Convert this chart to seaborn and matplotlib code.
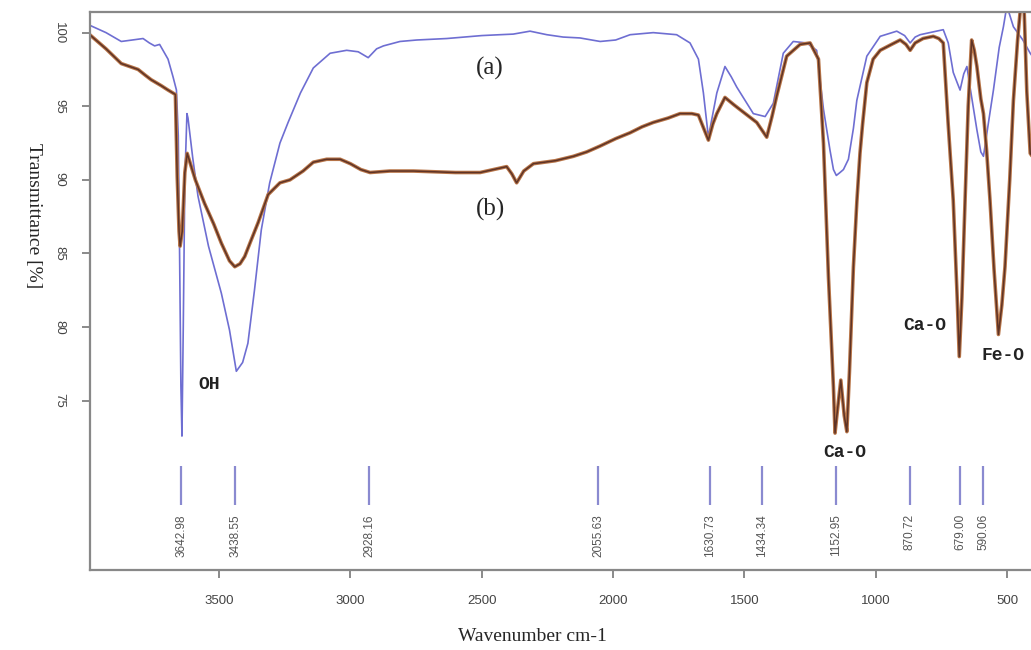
import numpy as np
import pandas as pd
import seaborn as sns
import matplotlib.pyplot as plt

# spectrum (a)
wn_a = [3992, 3930, 3872, 3830, 3789, 3765, 3745, 3726, 3694, 3675, 3662, 3655, 3650, 3645,
        3641, 3636, 3630, 3622, 3618, 3600, 3580, 3540, 3491, 3460, 3434, 3410, 3390, 3365,
        3339, 3307, 3268, 3237, 3190, 3141, 3077, 3014, 2970, 2932, 2900, 2874, 2811, 2747,
        2633, 2500, 2430, 2380, 2316, 2252, 2190, 2126, 2049, 1990, 1935, 1847, 1758, 1707,
        1675, 1656, 1637, 1620, 1605, 1574, 1550, 1529, 1466, 1421, 1390, 1352, 1314, 1263,
        1225, 1199, 1174, 1161, 1150, 1136, 1123, 1104, 1085, 1072, 1034, 983, 920, 890, 869,
        850, 831, 743, 724, 705, 690, 679, 665, 653, 641, 615, 600, 590, 570, 552, 530, 514,
        501, 490, 476, 440, 412, 400]
tr_a = [100.5, 100.0, 99.4, 99.5, 99.6, 99.3, 99.1, 99.2, 98.2, 97.0, 96.1, 93.0, 85.0, 76.0,
        72.6, 80.0, 90.0, 94.5, 94.2, 91.5, 88.9, 85.5, 82.3, 79.8, 77.0, 77.6, 78.9, 82.5,
        86.6, 89.8, 92.5, 93.9, 95.9, 97.6, 98.6, 98.8, 98.7, 98.3, 98.9, 99.1, 99.4, 99.5,
        99.6, 99.8, 99.86, 99.9, 100.1, 99.86, 99.7, 99.64, 99.4, 99.5, 99.86, 100.0, 99.86, 99.3,
        98.2, 95.9, 92.9, 94.5, 95.9, 97.7, 97.0, 96.3, 94.5, 94.3, 95.2, 98.6, 99.4, 99.3,
        98.8, 94.8, 92.0, 90.7, 90.3, 90.5, 90.7, 91.4, 93.5, 95.4, 98.4, 99.75, 100.1, 99.8, 99.3,
        99.7, 99.86, 100.2, 99.3, 97.3, 96.6, 96.1, 97.2, 97.7, 96.3, 93.4, 91.9, 91.6, 94.0, 96.1, 99.0, 100.4,
        101.8, 101.2, 100.4, 99.5, 98.6, 98.3]

# spectrum (b)
wn_b = [3992, 3930, 3872, 3808, 3780, 3758, 3720, 3694, 3666, 3659, 3652, 3648, 3640, 3630,
        3621, 3590, 3555, 3520, 3491, 3460, 3440, 3420, 3402, 3380, 3351, 3313, 3268, 3230,
        3180, 3141, 3090, 3039, 3000, 2960, 2925, 2850, 2760, 2600, 2506, 2430, 2405, 2385,
        2367, 2340, 2303, 2220, 2151, 2100, 2049, 1990, 1935, 1890, 1847, 1790, 1745, 1700,
        1675, 1655, 1637, 1620, 1605, 1574, 1540, 1504, 1453, 1415, 1395, 1377, 1339, 1288,
        1250, 1218, 1199, 1180, 1161, 1155, 1148, 1133, 1120, 1110, 1100, 1085, 1072, 1060,
        1050, 1034, 1010, 983, 940, 907, 885, 869, 850, 820, 781, 760, 743, 725, 705, 690,
        682, 672, 660, 648, 635, 625, 615, 600, 590, 578, 565, 550, 533, 520, 508, 490, 476,
        460, 451, 445, 435, 425, 412, 400]
tr_b = [99.86, 98.9, 97.9, 97.5, 97.1, 96.8, 96.4, 96.1, 95.8, 90.2, 86.5, 85.5, 86.5, 90.5,
        91.8, 90.0, 88.4, 87.0, 85.7, 84.5, 84.1, 84.3, 84.8, 85.8, 87.1, 89.0, 89.8, 90.0,
        90.6, 91.2, 91.4, 91.4, 91.1, 90.7, 90.5, 90.6, 90.6, 90.5, 90.5, 90.8, 90.9, 90.4,
        89.8, 90.6, 91.1, 91.3, 91.6, 91.9, 92.3, 92.8, 93.2, 93.6, 93.9, 94.2, 94.5, 94.5,
        94.4, 93.5, 92.7, 93.8, 94.5, 95.6, 95.1, 94.6, 93.9, 92.9, 94.3, 95.7, 98.4, 99.2,
        99.3, 98.2, 92.5, 83.4, 75.9, 72.8, 74.0, 76.4, 74.0, 72.9, 77.0, 84.1, 88.5, 91.8,
        93.8, 96.6, 98.2, 98.8, 99.2, 99.5, 99.2, 98.8, 99.3, 99.6, 99.75, 99.6, 99.3, 94.0, 88.6, 82.0,
        78.0, 82.0, 88.6, 95.0, 99.5, 98.8, 97.7, 95.5, 94.5, 92.0, 88.6, 84.0, 79.5, 81.5, 84.1, 90.0, 95.4,
        99.5, 101.3, 102.0, 101.5, 96.0, 91.8, 91.5]

# marked peaks
peak_wn = [3642.98, 3438.55, 2928.16, 2055.63, 1630.73, 1434.34, 1152.95, 870.72, 679.00, 590.06]
peak_labels = ["3642.98", "3438.55", "2928.16", "2055.63", "1630.73", "1434.34",
               "1152.95", "870.72", "679.00", "590.06"]

# band labels
band_text = ["OH", "Ca-O", "Ca-O", "Fe-O"]
band_x = [3538, 1118, 813, 515]
band_y = [76.1, 71.5, 80.1, 78.1]

y_ticks = [75, 80, 85, 90, 95, 100]
x_ticks = [3500, 3000, 2500, 2000, 1500, 1000, 500]

df_a = pd.DataFrame({"wn": wn_a, "T": tr_a})
df_b = pd.DataFrame({"wn": wn_b, "T": tr_b})

sns.set_style("white")
fig = plt.figure(figsize=(10.31, 6.5), dpi=100)
ax = fig.add_axes([0.0873, 0.123, 0.9127, 0.8585])

sns.lineplot(data=df_a, x="wn", y="T", ax=ax, sort=False, color="#6e6ed2", lw=1.2)
# brown curve drawn twice to get the two-tone look
sns.lineplot(data=df_b, x="wn", y="T", ax=ax, sort=False, color="#b87548", lw=2.6)
sns.lineplot(data=df_b, x="wn", y="T", ax=ax, sort=False, color="#5e3326", lw=1.1)

ax.set_xlim(3991, 409)
ax.set_ylim(63.5, 101.4)

# peak markers
ax.vlines(peak_wn, 67.9, 70.6, color="#8a8ad0", lw=1.6)
for w, lab in zip(peak_wn, peak_labels):
    ax.text(w, 67.3, lab, rotation=90, ha="center", va="top", fontsize=8.5,
            color="#555555", family="Liberation Sans")

ax.text(2468, 97.6, "(a)", ha="center", va="center", fontsize=18, family="Liberation Serif")
ax.text(2468, 88.0, "(b)", ha="center", va="center", fontsize=18, family="Liberation Serif")
for t, x, y in zip(band_text, band_x, band_y):
    ax.text(x, y, t, ha="center", va="center", fontsize=13, family="Liberation Mono",
            fontweight="bold", color="#222222")

ax.set_xticks(x_ticks)
ax.set_yticks(y_ticks)
ax.set_xticklabels([str(v) for v in x_ticks], fontsize=9.5, color="#444444", family="Liberation Sans")
ax.set_yticklabels([str(v) for v in y_ticks], fontsize=9.5, color="#444444", family="Liberation Sans",
                   rotation=270, va="center")
ax.tick_params(axis="both", direction="out", length=6, width=1.2, color="#777777", pad=12,
               bottom=True, left=True)

ax.set_xlabel("Wavenumber cm-1", fontsize=14, family="Liberation Serif")
ax.set_ylabel("Transmittance [%]", fontsize=14, family="Liberation Serif", rotation=270)
ax.xaxis.set_label_coords(0.47, -0.104)
ax.yaxis.set_label_coords(-0.069, 0.636)

for s in ["left", "bottom", "top"]:
    ax.spines[s].set_color("#888888")
    ax.spines[s].set_linewidth(1.6)
ax.spines["right"].set_visible(False)

fig.savefig("out.png", dpi=100)
